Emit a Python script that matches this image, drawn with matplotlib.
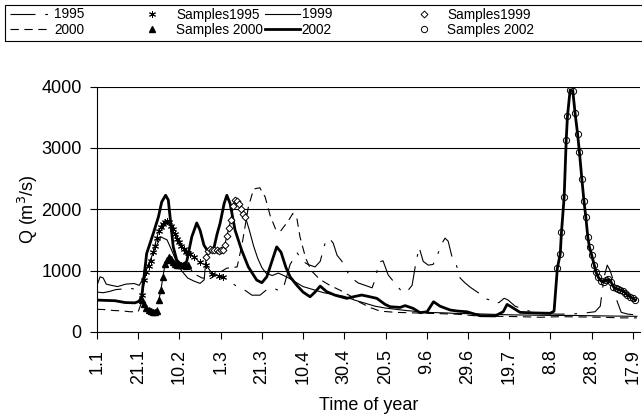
import matplotlib
matplotlib.use("Agg")
import matplotlib.pyplot as plt
from matplotlib.lines import Line2D
from matplotlib.patches import Rectangle

plt.rcParams['font.family'] = ['Liberation Sans', 'DejaVu Sans']
plt.rcParams['lines.scale_dashes'] = False

# x axis is day of year (0 = 1.1), tick label every 20 days
tick_days = [0, 20, 40, 60, 80, 100, 120, 140, 160, 180, 200, 220, 240, 260]
tick_labels = ['1.1', '21.1', '10.2', '1.3', '21.3', '10.4', '30.4', '20.5',
               '9.6', '29.6', '19.7', '8.8', '28.8', '17.9']

# 1995
pre95_day = [0, 3, 6, 9, 12, 15, 18, 20]
pre95_q = [650, 640, 660, 690, 700, 720, 700, 650]
s95_day = [22, 23, 24, 25, 26, 27, 28, 29, 30, 31, 32, 33, 34, 35, 36, 37, 38, 39,
           40, 41, 42, 43, 44, 45, 47, 50, 53, 56, 59, 61]
s95_q = [600, 850, 980, 1070, 1160, 1300, 1400, 1530, 1650, 1710, 1760, 1800, 1810,
         1790, 1730, 1680, 1590, 1520, 1460, 1400, 1350, 1310, 1280, 1268, 1220,
         1143, 1085, 950, 910, 895]
post95_day = [68, 71.8, 75.2, 79.1, 82, 85.4, 87.9, 90.3, 93.7, 97.1, 100, 102.4,
              105.8, 108.3, 110.7, 112.6, 114.6, 116.5, 118.9, 122.8, 126.7, 130.1,
              133.5, 134.9, 136.9, 138.8, 141.3, 144.7, 148.1, 150.5, 152.9, 154.4,
              156.3, 158.3, 160.7, 163.1, 165.5, 167.5, 168.9, 170.4, 172.3, 174.3,
              176.2, 178.6, 181.1, 185.9, 188.8, 190.8, 192.7, 195.1, 197.6, 199.5,
              202.9, 208.7, 215, 224.8, 234.5, 241.7, 244.2, 246.1, 247.6, 249,
              250.5, 252.4, 254.4, 257.8, 261.7]
post95_q = [740, 680, 600, 600, 680, 720, 680, 700, 1100, 1290, 1150, 1100, 1060,
            1150, 1450, 1530, 1450, 1250, 1150, 900, 800, 760, 720, 850, 1140, 1160,
            930, 790, 650, 660, 760, 1060, 1380, 1150, 1090, 1100, 1280, 1450, 1530,
            1480, 1220, 1100, 880, 800, 730, 620, 540, 520, 470, 480, 550, 520, 420,
            350, 300, 290, 300, 330, 420, 900, 1090, 1000, 850, 500, 320, 290, 280]

# 1999
pre99_day = [0, 1.5, 3, 4.5, 7, 10, 14, 18, 20.5, 22, 25, 28, 31, 34, 36, 38.5, 41,
             44, 47, 50, 52]
pre99_q = [760, 900, 880, 780, 760, 740, 780, 790, 760, 850, 1100, 1350, 1550, 1500,
           1350, 1150, 1000, 880, 830, 792, 850]
s99_day = [53, 54, 55, 56, 57, 58, 59, 60, 61, 62, 63, 64, 65, 66, 67, 68, 69, 70,
           71, 72]
s99_q = [1225, 1320, 1345, 1335, 1330, 1335, 1320, 1330, 1340, 1420, 1560, 1700,
         1830, 2050, 2150, 2140, 2080, 2000, 1930, 1875]
post99_day = [74, 76, 78, 80, 82, 85, 88, 90, 93, 96, 100, 105, 110, 115, 120, 125,
              130, 135, 140, 145, 150, 155, 160, 165, 170, 175, 180, 190, 200, 210,
              220, 230, 240, 250, 262]
post99_q = [1650, 1400, 1200, 1050, 960, 920, 960, 930, 880, 820, 740, 690, 640, 610,
            580, 520, 470, 420, 390, 370, 350, 335, 320, 315, 310, 300, 300, 290,
            280, 275, 270, 270, 265, 260, 255]

# 2000
pre00_day = [0, 4, 8, 12, 16, 20]
pre00_q = [370, 365, 350, 345, 330, 330]
s00_day = [22, 23, 24, 25, 26, 27, 28, 29, 30, 31, 32, 33, 34, 35, 36, 37, 38, 39,
           40, 41, 42, 43, 44]
s00_q = [520, 450, 395, 365, 345, 331, 331, 341, 520, 683, 900, 1100, 1170, 1225,
         1190, 1144, 1100, 1089, 1089, 1089, 1089, 1070, 1089]
post00_day = [47, 51, 55, 59, 63, 68, 70.5, 73.4, 76, 79, 81.6, 84, 86.6, 89, 93, 95,
              97, 98.5, 101.3, 104, 108, 113, 118, 122.8, 127.7, 132.5, 137.4, 145,
              155, 165, 175, 185, 195, 205, 215, 225, 235, 245, 255, 262]
post00_q = [950, 880, 870, 960, 1040, 1060, 1450, 2030, 2330, 2350, 2200, 1900, 1680,
            1640, 1820, 1930, 1850, 1550, 1200, 1000, 860, 760, 680, 590, 480, 400,
            340, 320, 310, 300, 290, 260, 255, 250, 240, 250, 245, 240, 230, 230]

# 2002
pre02_day = [0, 3.9, 8.7, 13.6, 18.4, 20.4, 21.7, 24.1, 27.3, 29.8, 31.4, 33.3, 34.6,
             35.8, 37, 38.7, 41.1, 43.5, 46, 48.4, 50, 51.9, 54, 56.5, 58.3, 59.7,
             61.7, 63, 64.6, 67, 70.2, 73.4, 77.5, 80, 82.4, 85.6, 87.2, 89.3, 91.7,
             93.7, 96.9, 100, 103.4, 105.8, 108.3, 111.5, 115.5, 121.2, 125.2, 128.5,
             131.6, 135.8, 139.8, 142.2, 147.1, 149.5, 153.4, 156.8, 160.2, 163.3,
             166.5, 171.4, 175.2, 179.5, 185.9, 193.2, 197.1, 199, 201.5, 205.3,
             212.6, 219.9, 221.8]
pre02_q = [520, 515, 510, 480, 475, 500, 574, 1279, 1605, 1875, 2119, 2228, 2150,
           1767, 1387, 1171, 1089, 1143, 1550, 1777, 1659, 1415, 1306, 1333, 1600,
           1767, 2093, 2228, 2093, 1659, 1333, 1062, 846, 803, 900, 1225, 1387, 1300,
           1050, 900, 764, 650, 574, 650, 748, 656, 600, 548, 580, 602, 580, 548, 450,
           412, 400, 430, 385, 314, 330, 493, 420, 358, 340, 330, 265, 262, 330, 450,
           400, 320, 310, 305, 340]
s02_day = [223.4, 224.8, 225.4, 226.7, 227.7, 228.3, 229.6, 230.9, 232.0, 233.2,
           234.1, 235.3, 236.3, 237.2, 238.2, 239.0, 240.1, 241.3, 242.2, 243.3,
           244.5, 245.8, 247.1, 248.2, 249.4, 250.6, 251.8, 252.9, 254.0, 255.2,
           256.3, 257.4, 258.7, 260.0, 261.2]
s02_q = [1041, 1274, 1631, 2201, 3133, 3518, 3946, 3924, 3566, 3230, 2932, 2488, 2135,
         1875, 1540, 1377, 1247, 1089, 970, 889, 835, 813, 846, 856, 818, 737, 710,
         694, 683, 672, 639, 602, 575, 547, 520]

fig = plt.figure(figsize=(6.42, 4.2), dpi=100)
ax = fig.add_axes([97 / 642, 1 - 332 / 420, 543 / 642, 245.5 / 420])

k = 'black'
ax.plot(pre95_day + s95_day + post95_day, pre95_q + s95_q + post95_q,
        color=k, lw=0.8, dashes=(18, 7, 2, 7))
ax.plot(pre99_day + s99_day + post99_day, pre99_q + s99_q + post99_q,
        color=k, lw=0.8)
ax.plot(pre00_day + s00_day + post00_day, pre00_q + s00_q + post00_q,
        color=k, lw=0.8, dashes=(6, 4))
ax.plot(pre02_day + s02_day, pre02_q + s02_q, color=k, lw=2.0)

ax.plot(s95_day, s95_q, ls='none', marker=(6, 2, 0), ms=5, mew=0.7, color=k)
ax.plot(s99_day, s99_q, ls='none', marker='D', ms=3.5, mew=0.7, mfc='white', mec=k)
ax.plot(s00_day, s00_q, ls='none', marker='^', ms=5, color=k)
ax.plot(s02_day, s02_q, ls='none', marker='o', ms=4.5, mew=0.7, mfc='none', mec=k)

ax.set_xlim(0, 263.5)
ax.set_ylim(0, 4000)
ax.set_yticks([0, 1000, 2000, 3000, 4000])
ax.set_xticks(tick_days)
ax.set_xticklabels(tick_labels, rotation=90)
ax.tick_params(axis='x', direction='out', length=5, width=0.8, pad=7, labelsize=13)
ax.tick_params(axis='y', direction='out', length=5, width=0.8, pad=6, labelsize=13)
for side in ['top', 'right']:
    ax.spines[side].set_visible(False)
for side in ['left', 'bottom']:
    ax.spines[side].set_linewidth(0.8)
ax.yaxis.grid(True, color=k, lw=0.8)
ax.set_axisbelow(True)

ax.set_ylabel('Q (m$^3$/s)', fontsize=13)
ax.yaxis.set_label_coords(-0.105, 0.5)
ax.set_xlabel('Time of year', fontsize=13)
ax.xaxis.set_label_coords(0.5, -0.265)

# legend: four columns, two rows each, inside one box
h95 = Line2D([], [], color=k, lw=0.8, dashes=(18, 7, 2, 7))
h00 = Line2D([], [], color=k, lw=0.8, dashes=(6, 4))
h99 = Line2D([], [], color=k, lw=0.8)
h02 = Line2D([], [], color=k, lw=2.0)
hs95 = Line2D([], [], ls='none', marker=(6, 2, 0), ms=5, mew=0.7, color=k)
hs00 = Line2D([], [], ls='none', marker='^', ms=5, color=k)
hs99 = Line2D([], [], ls='none', marker='D', ms=3.5, mew=0.7, mfc='white', mec=k)
hs02 = Line2D([], [], ls='none', marker='o', ms=4.5, mew=0.7, mfc='none', mec=k)

columns = [
    ([h95, h00], ['1995', '2000'], 10, 2.9, 0.36),
    ([hs95, hs00], ['Samples1995', 'Samples 2000'], 140, 1.73, 0.95),
    ([h99, h02], ['1999', '2002'], 265, 2.55, 0.15),
    ([hs99, hs02], ['Samples1999', 'Samples 2002'], 412, 1.73, 0.86),
]
for handles, labels, x0, hl, pad in columns:
    fig.legend(handles, labels, loc='upper left',
               bbox_to_anchor=(x0 / 642, 1 - 7.5 / 420), borderaxespad=0,
               borderpad=0, frameon=False, fontsize=9.8, labelspacing=0.12,
               handlelength=hl, handletextpad=pad)

fig.patches.append(Rectangle((5 / 642, 1 - 41 / 420), 640 / 642, 36 / 420,
                             transform=fig.transFigure, fill=False, ec=k, lw=0.8))

fig.savefig('out.png', dpi=100)
